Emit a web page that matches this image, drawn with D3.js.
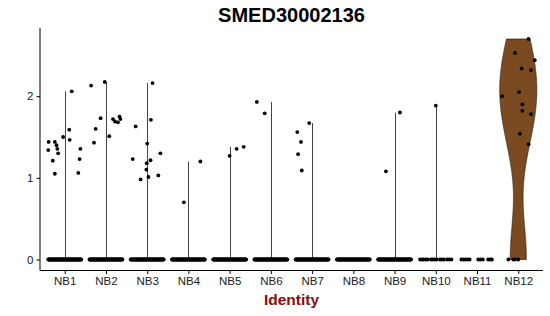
<!DOCTYPE html>
<html>
<head>
<meta charset="utf-8">
<script src="https://cdn.jsdelivr.net/npm/d3@7"></script>
<style>
  html, body { margin: 0; padding: 0; background: #fff; }
  svg { display: block; font-family: "Liberation Sans", Arial, sans-serif; }
</style>
</head>
<body>
<svg id="chart" width="550" height="316"></svg>
<script>
// ---------------- data ----------------
const title = "SMED30002136";
const xTitle = "Identity";
const categories = ["NB1","NB2","NB3","NB4","NB5","NB6","NB7","NB8","NB9","NB10","NB11","NB12"];
const yTicks = [0, 1, 2];

// non-zero expression values per identity: [value, jitter offset (fraction of category step)]
const nonzeroNB1  = [[2.06,0.17],[1.44,-0.39],[1.44,-0.24],[1.40,-0.20],[1.355,-0.18],[1.34,-0.40],[1.30,-0.16],[1.21,-0.29],[1.05,-0.24],[1.50,-0.04],[1.59,0.11],[1.465,0.12],[1.355,0.38],[1.23,0.36],[1.06,0.33]];
const nonzeroNB2  = [[2.13,-0.36],[2.175,-0.03],[1.73,-0.13],[1.60,-0.25],[1.43,-0.29],[1.51,0.08],[1.72,0.17],[1.69,0.22],[1.68,0.29],[1.75,0.33],[1.72,0.35]];
const nonzeroNB3  = [[2.16,0.13],[1.71,0.09],[1.63,-0.28],[1.42,0.0],[1.23,-0.35],[1.30,0.32],[1.215,0.08],[1.18,-0.01],[1.10,-0.02],[1.03,0.27],[1.01,0.03],[0.98,-0.16]];
const nonzeroNB4  = [[1.20,0.29],[0.70,-0.11]];
const nonzeroNB5  = [[1.27,0.0],[1.355,0.17],[1.38,0.34]];
const nonzeroNB6  = [[1.93,-0.34],[1.79,-0.15]];
const nonzeroNB7  = [[1.67,-0.07],[1.56,-0.36],[1.44,-0.27],[1.29,-0.34],[1.09,-0.25]];
const nonzeroNB8  = [];
const nonzeroNB9  = [[1.80,0.13],[1.08,-0.21]];
const nonzeroNB10 = [[1.885,0.0]];
const nonzeroNB11 = [];
const nonzeroNB12 = [[2.70,0.25],[2.53,-0.08],[2.44,0.40],[2.34,0.08],[2.32,0.31],[2.00,-0.39],[2.05,0.02],[1.90,0.10],[1.82,0.10],[1.78,0.31],[1.54,0.04],[1.41,0.25]];
const nonzeroValues = [nonzeroNB1,nonzeroNB2,nonzeroNB3,nonzeroNB4,nonzeroNB5,nonzeroNB6,nonzeroNB7,nonzeroNB8,nonzeroNB9,nonzeroNB10,nonzeroNB11,nonzeroNB12];

// zero-valued cells: sparse groups listed by jitter offset, dense groups given by a cell count
const zeroCells   = [60, 60, 60, 60, 60, 60, 60, 60, 60, 0, 0, 0];
const zeroNB10 = [-0.38,-0.33,-0.29,-0.24,-0.20,-0.12,-0.08,-0.03,0.02,0.10,0.15,0.20,0.28,0.33,0.38];
const zeroNB11 = [-0.38,-0.33,-0.28,-0.23,-0.18,0.03,0.08,0.14,0.27,0.32,0.36];
const zeroNB12 = [-0.24,-0.12,-0.08,0.0];
const zeroSparse = {NB10: zeroNB10, NB11: zeroNB11, NB12: zeroNB12};

// ---------------- chart ----------------
const svg = d3.select("#chart");
const mLeft = 40, mRight = 543, mTop = 28, mBottom = 270.5;

const x = d3.scalePoint().domain(categories).range([mLeft, mRight]).padding(0.6);
const step = x.step();
const y = d3.scaleLinear().domain([-0.135, 2.835]).range([mBottom, mTop]);

const violinFill = "#7B4A20";

// violins
categories.forEach((cat, i) => {
  const vals = nonzeroValues[i].map(d => d[0]);
  const zeros = zeroSparse[cat] ? zeroSparse[cat].length : zeroCells[i];
  const all = vals.concat(d3.range(zeros).map(() => 0));
  if (vals.length === 0) return;
  const cx = x(cat);
  const vmax = d3.max(all);
  if (cat === "NB12") {
    const bw = 0.5;
    const grid = d3.range(0, 513).map(k => vmax * k / 512);
    const dens = grid.map(g => [g, d3.sum(all, v => Math.exp(-0.5 * ((g - v) / bw) ** 2))]);
    const dmax = d3.max(dens, d => d[1]);
    const wScale = d3.scaleLinear().domain([0, dmax]).range([0, step * 0.45]);
    const area = d3.area()
      .x0(d => cx - wScale(d[1]))
      .x1(d => cx + wScale(d[1]))
      .y(d => y(d[0]));
    svg.append("path").datum(dens)
      .attr("d", area)
      .attr("fill", violinFill)
      .attr("stroke", "#222")
      .attr("stroke-width", 0.7);
  } else {
    svg.append("line")
      .attr("x1", Math.round(cx) + 0.5).attr("x2", Math.round(cx) + 0.5)
      .attr("y1", y(0)).attr("y2", y(vmax))
      .attr("stroke", "#444").attr("stroke-width", 1);
  }
});

// points
const pts = [];
categories.forEach((cat, i) => {
  const offs = zeroSparse[cat] || (zeroCells[i] > 1 ? d3.range(zeroCells[i]).map(k => -0.4 + 0.8 * k / (zeroCells[i] - 1)) : []);
  offs.forEach(o => pts.push({cat, v: 0, o}));
  nonzeroValues[i].forEach(d => pts.push({cat, v: d[0], o: d[1]}));
});
svg.append("g").selectAll("circle").data(pts).join("circle")
  .attr("cx", d => x(d.cat) + d.o * step)
  .attr("cy", d => y(d.v))
  .attr("r", 1.9)
  .attr("fill", "#000");

// axes
const yAxis = d3.axisLeft(y).tickValues(yTicks).tickSize(3.5).tickPadding(3).tickFormat(d3.format("d"));
const gy = svg.append("g").attr("transform", `translate(${mLeft},0)`).call(yAxis);
gy.select(".domain").attr("d", `M0,${mTop}V${mBottom}`).attr("stroke", "#000");
gy.selectAll("text").attr("font-size", 11.5).attr("fill", "#222")
  .attr("font-family", "'Liberation Sans', Arial, sans-serif");

const xAxis = d3.axisBottom(x).tickSize(3.5).tickPadding(3);
const gx = svg.append("g").attr("transform", `translate(0,${mBottom})`).call(xAxis);
gx.select(".domain").attr("d", `M${mLeft},0H${mRight}`).attr("stroke", "#000");
gx.selectAll("text").attr("font-size", 11.5).attr("fill", "#222")
  .attr("font-family", "'Liberation Sans', Arial, sans-serif");

// titles
svg.append("text")
  .attr("x", (mLeft + mRight) / 2).attr("y", 22)
  .attr("text-anchor", "middle")
  .attr("font-size", 20).attr("font-weight", "bold").attr("fill", "#000")
  .text(title);

svg.append("text")
  .attr("x", (mLeft + mRight) / 2).attr("y", 305)
  .attr("text-anchor", "middle")
  .attr("font-size", 15.5).attr("font-weight", "bold").attr("fill", "#8B0A0A")
  .text(xTitle);
</script>
</body>
</html>
